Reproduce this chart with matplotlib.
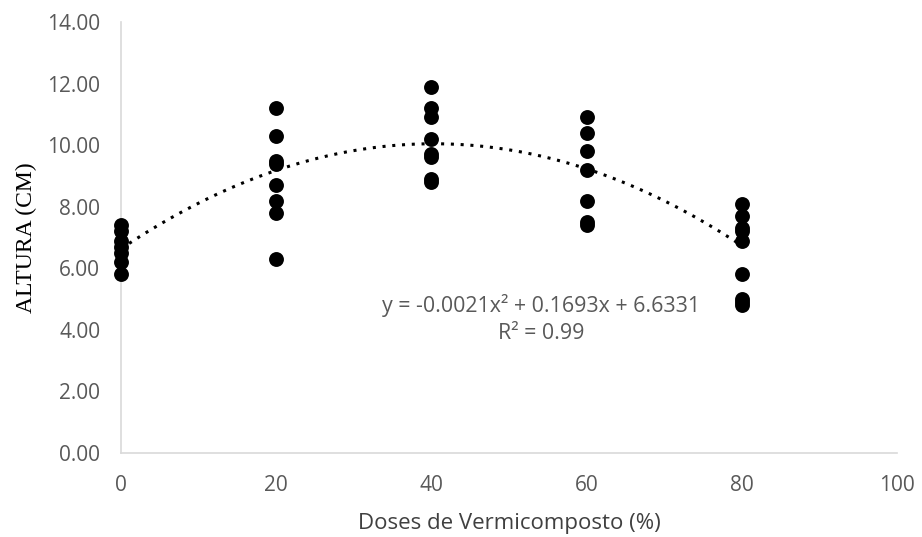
import numpy as np
import matplotlib
matplotlib.use("Agg")
import matplotlib.pyplot as plt

doses = [0, 20, 40, 60, 80]
alturas = [
    [7.4, 7.2, 6.9, 6.7, 6.5, 6.2, 5.8],
    [11.2, 10.3, 9.5, 9.4, 8.7, 8.2, 7.8, 6.3],
    [11.9, 11.2, 10.9, 10.2, 9.7, 9.6, 8.9, 8.8],
    [10.9, 10.4, 9.8, 9.2, 8.2, 7.5, 7.4],
    [8.1, 7.7, 7.3, 7.2, 6.9, 5.8, 5.0, 4.9, 4.8],
]
coef = [-0.0021, 0.1693, 6.6331]
eq_line1 = "y = -0.0021x² + 0.1693x + 6.6331"
eq_line2 = "R² = 0.99"

fig = plt.figure(figsize=(9.22, 5.37), dpi=100)
ax = fig.add_axes([121/922, 1-453/537, (897-121)/922, (453-22)/537])

for d, vals in zip(doses, alturas):
    ax.scatter([d]*len(vals), vals, s=115, color="black", zorder=3,
               linewidths=0, clip_on=False)

xt = np.linspace(0, 80, 200)
yt = np.polyval(coef, xt)
ax.plot(xt, yt, color="black", linestyle=(0, (1, 2.2)), linewidth=2.2, zorder=2)

ax.set_xlim(0, 100)
ax.set_ylim(0, 14)
ax.set_xticks([0, 20, 40, 60, 80, 100])
ax.set_yticks(np.arange(0, 15, 2))
ax.set_yticklabels([f"{v:.2f}" for v in np.arange(0, 15, 2)])
for s in ["top", "right"]:
    ax.spines[s].set_visible(False)
for s in ["left", "bottom"]:
    ax.spines[s].set_color("#d9d9d9")
    ax.spines[s].set_linewidth(1.2)
ax.tick_params(length=0, labelsize=15, colors="#595959")
ax.tick_params(axis="y", pad=15)
ax.tick_params(axis="x", pad=16)
for lab in ax.get_xticklabels() + ax.get_yticklabels():
    lab.set_fontfamily("Open Sans")

fig.text(509/922, 1-524/537, "Doses de Vermicomposto (%)", fontsize=16,
         color="#404040", fontfamily="Open Sans", ha="center", va="center")
fig.text(26/922, 1-238/537, "ALTURA (CM)", fontsize=17, color="black",
         fontfamily="Liberation Serif", ha="center", va="center", rotation=90)

ax.text(54.1, (453-305)/30.8, eq_line1, ha="center", va="center", fontsize=15.4,
        color="#595959", fontfamily="Open Sans")
ax.text(54.1, (453-333)/30.8, eq_line2, ha="center", va="center", fontsize=15.4,
        color="#595959", fontfamily="Open Sans")

fig.savefig("out.png", dpi=100)
